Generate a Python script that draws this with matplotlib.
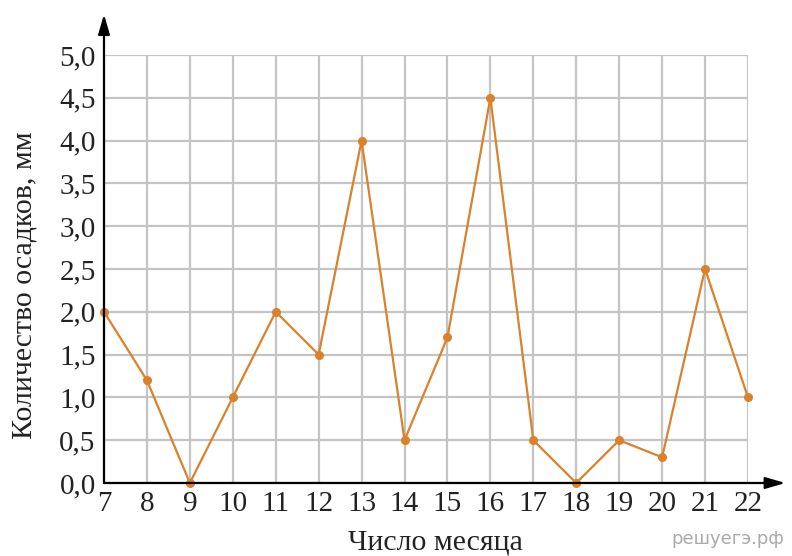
import matplotlib
matplotlib.use('Agg')
import matplotlib.pyplot as plt

days = [7, 8, 9, 10, 11, 12, 13, 14, 15, 16, 17, 18, 19, 20, 21, 22]
rain = [2.0, 1.2, 0.0, 1.0, 2.0, 1.5, 4.0, 0.5, 1.7, 4.5, 0.5, 0.0, 0.5, 0.3, 2.5, 1.0]
yticks = [0.0, 0.5, 1.0, 1.5, 2.0, 2.5, 3.0, 3.5, 4.0, 4.5, 5.0]

plt.rcParams['font.family'] = ['Liberation Serif', 'DejaVu Serif']

fig = plt.figure(figsize=(7.92, 5.56), dpi=100)
ax = fig.add_axes([0.1313, 0.1313, 0.8131, 0.7698])

ax.plot(days, rain, color='#D9822B', lw=1.6, marker='o', ms=5.5, clip_on=False, zorder=3)

ax.set_xlim(7, 22)
ax.set_ylim(0, 5)
ax.set_xticks(days)
ax.set_yticks(yticks)
ax.set_yticklabels([f'{v:.1f}'.replace('.', ',') for v in yticks])
ax.tick_params(length=0, labelsize=21, pad=6, labelcolor='#222222')
ax.grid(True, color='#c4c4c4', lw=1.6)
ax.set_axisbelow(True)

for s in ['top', 'right', 'left', 'bottom']:
    ax.spines[s].set_visible(False)

# axes drawn as arrows
ax.annotate('', xy=(0, 1.095), xytext=(0, 0), xycoords='axes fraction',
            arrowprops=dict(arrowstyle='-|>,head_length=1.2,head_width=0.35', color='black', lw=1.6,
                            shrinkA=0, shrinkB=0), annotation_clip=False)
ax.annotate('', xy=(1.058, 0), xytext=(0, 0), xycoords='axes fraction',
            arrowprops=dict(arrowstyle='-|>,head_length=1.2,head_width=0.35', color='black', lw=1.6,
                            shrinkA=0, shrinkB=0), annotation_clip=False)

ax.set_ylabel('Количество осадков, мм', fontsize=21.5, color='#222222', va='center')
ax.yaxis.set_label_coords(-0.1227, 0.463)
ax.set_xlabel('Число месяца', fontsize=21.5, color='#222222', va='center')
ax.xaxis.set_label_coords(0.514, -0.138)

fig.text(0.99, 0.015, 'решуегэ.рф', ha='right', va='bottom', fontsize=13,
         color='#aaaaaa', family='DejaVu Sans')

fig.savefig('out.png', dpi=100)
